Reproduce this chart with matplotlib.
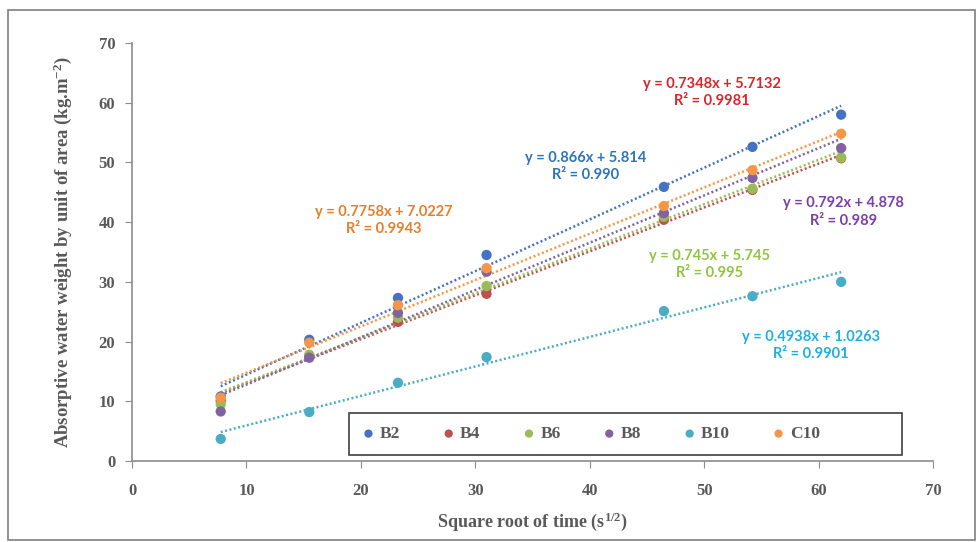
import matplotlib
matplotlib.use("Agg")
import matplotlib.pyplot as plt
from matplotlib.patches import Rectangle
import numpy as np

plt.rcParams['mathtext.fontset'] = 'custom'
plt.rcParams['mathtext.rm'] = 'Liberation Serif:bold'
plt.rcParams['mathtext.bf'] = 'Liberation Serif:bold'
plt.rcParams['mathtext.it'] = 'Liberation Serif:bold'
plt.rcParams['mathtext.default'] = 'rm'

# ---- data ----
x_time = [7.75, 15.49, 23.24, 30.98, 46.48, 54.22, 61.97]
series_names = ["B2", "B4", "B6", "B8", "B10", "C10"]
B2 = [10.8, 20.3, 27.3, 34.5, 45.9, 52.6, 58.0]
B4 = [10.1, 17.6, 23.3, 28.0, 40.4, 45.4, 50.7]
B6 = [9.5, 17.8, 24.0, 29.3, 40.9, 45.6, 50.8]
B8 = [8.3, 17.3, 24.8, 31.7, 41.5, 47.4, 52.4]
B10 = [3.7, 8.2, 13.1, 17.4, 25.1, 27.6, 30.0]
C10 = [10.6, 19.8, 26.1, 32.3, 42.7, 48.7, 54.8]
slopes = [0.866, 0.7348, 0.745, 0.792, 0.4938, 0.7758]
intercepts = [5.814, 5.7132, 5.745, 4.878, 1.0263, 7.0227]
eq_text = ["y = 0.866x + 5.814\nR² = 0.990",
           "y = 0.7348x + 5.7132\nR² = 0.9981",
           "y = 0.745x + 5.745\nR² = 0.995",
           "y = 0.792x + 4.878\nR² = 0.989",
           "y = 0.4938x + 1.0263\nR² = 0.9901",
           "y = 0.7758x + 7.0227\nR² = 0.9943"]
x_ticks = [0, 10, 20, 30, 40, 50, 60, 70]
y_ticks = [0, 10, 20, 30, 40, 50, 60, 70]

series_vals = [B2, B4, B6, B8, B10, C10]
colors = ["#4472C4", "#C0504D", "#9BBB59", "#8064A2", "#4BACC6", "#F79646"]
text_colors = ["#2E75B6", "#D9262B", "#8DC63F", "#7B3FA8", "#1FB0E0", "#E87D2A"]
eq_pos = [(39.6, 49.3), (50.7, 61.7), (50.5, 32.9), (62.2, 41.7), (59.3, 19.3), (22.0, 40.3)]

fig = plt.figure(figsize=(9.78, 5.42), dpi=100)
ax = fig.add_axes([0.135, 0.1494, 0.819, 0.7713])

xs = np.array(x_time)
for name, vals, c, m, b in zip(series_names, series_vals, colors, slopes, intercepts):
    xl = np.array([xs.min(), xs.max()])
    ax.plot(xl, m * xl + b, linestyle=(0, (0.8, 1.0)), color=c, lw=1.8, zorder=2)
for name, vals, c in zip(series_names, series_vals, colors):
    ax.scatter(xs, vals, s=55, color=c, label=name, zorder=3, edgecolors='none')

for t, (px, py), tc in zip(eq_text, eq_pos, text_colors):
    ax.text(px, py, t, ha='center', va='center', color=tc, fontsize=10.5,
            fontweight='bold', family='Lato', linespacing=1.3)

ax.set_xlim(0, 70)
ax.set_ylim(0, 70)
ax.set_xticks(x_ticks)
ax.set_yticks(y_ticks)
for s in ["top", "right"]:
    ax.spines[s].set_visible(False)
for s in ["left", "bottom"]:
    ax.spines[s].set_color("#8c8c8c")
    ax.spines[s].set_linewidth(1.2)
ax.tick_params(direction='out', length=5, color="#8c8c8c", labelcolor="#595959",
               labelsize=12)
ax.tick_params(axis='x', pad=11)
ax.tick_params(axis='y', pad=7)
for lab in ax.get_xticklabels() + ax.get_yticklabels():
    lab.set_family("Liberation Serif")
    lab.set_fontweight("bold")

ax.set_xlabel("Square root of time (s$^{1/2}$)", family="Liberation Serif",
              fontweight="bold", fontsize=13, color="#595959", labelpad=8)
ax.set_ylabel("Absorptive water weight by unit of area (kg.m$^{-2}$)", family="Liberation Serif",
              fontweight="bold", fontsize=13.5, color="#595959", labelpad=18)

# legend box drawn as a rectangle, entries placed inside it
ax.add_patch(Rectangle((0.271, 0.014), 0.69, 0.101, transform=ax.transAxes,
                       fill=True, facecolor='white', edgecolor="#404040", lw=1.2, zorder=4))
leg = ax.legend(loc='center left', bbox_to_anchor=(0.2735, 0.0645),
                ncol=6, frameon=False,
                prop={'family': 'Liberation Serif', 'weight': 'bold', 'size': 12.5},
                handletextpad=0.05, markerscale=0.8, borderaxespad=0, columnspacing=2.2,
                handlelength=1.2)
leg.set_zorder(5)
for t in leg.get_texts():
    t.set_color("#595959")

fig.patches.append(Rectangle((0.008, 0.003), 0.989, 0.979, transform=fig.transFigure,
                             fill=False, edgecolor="#7f7f7f", lw=1.2))

fig.savefig("out.png", dpi=100)
